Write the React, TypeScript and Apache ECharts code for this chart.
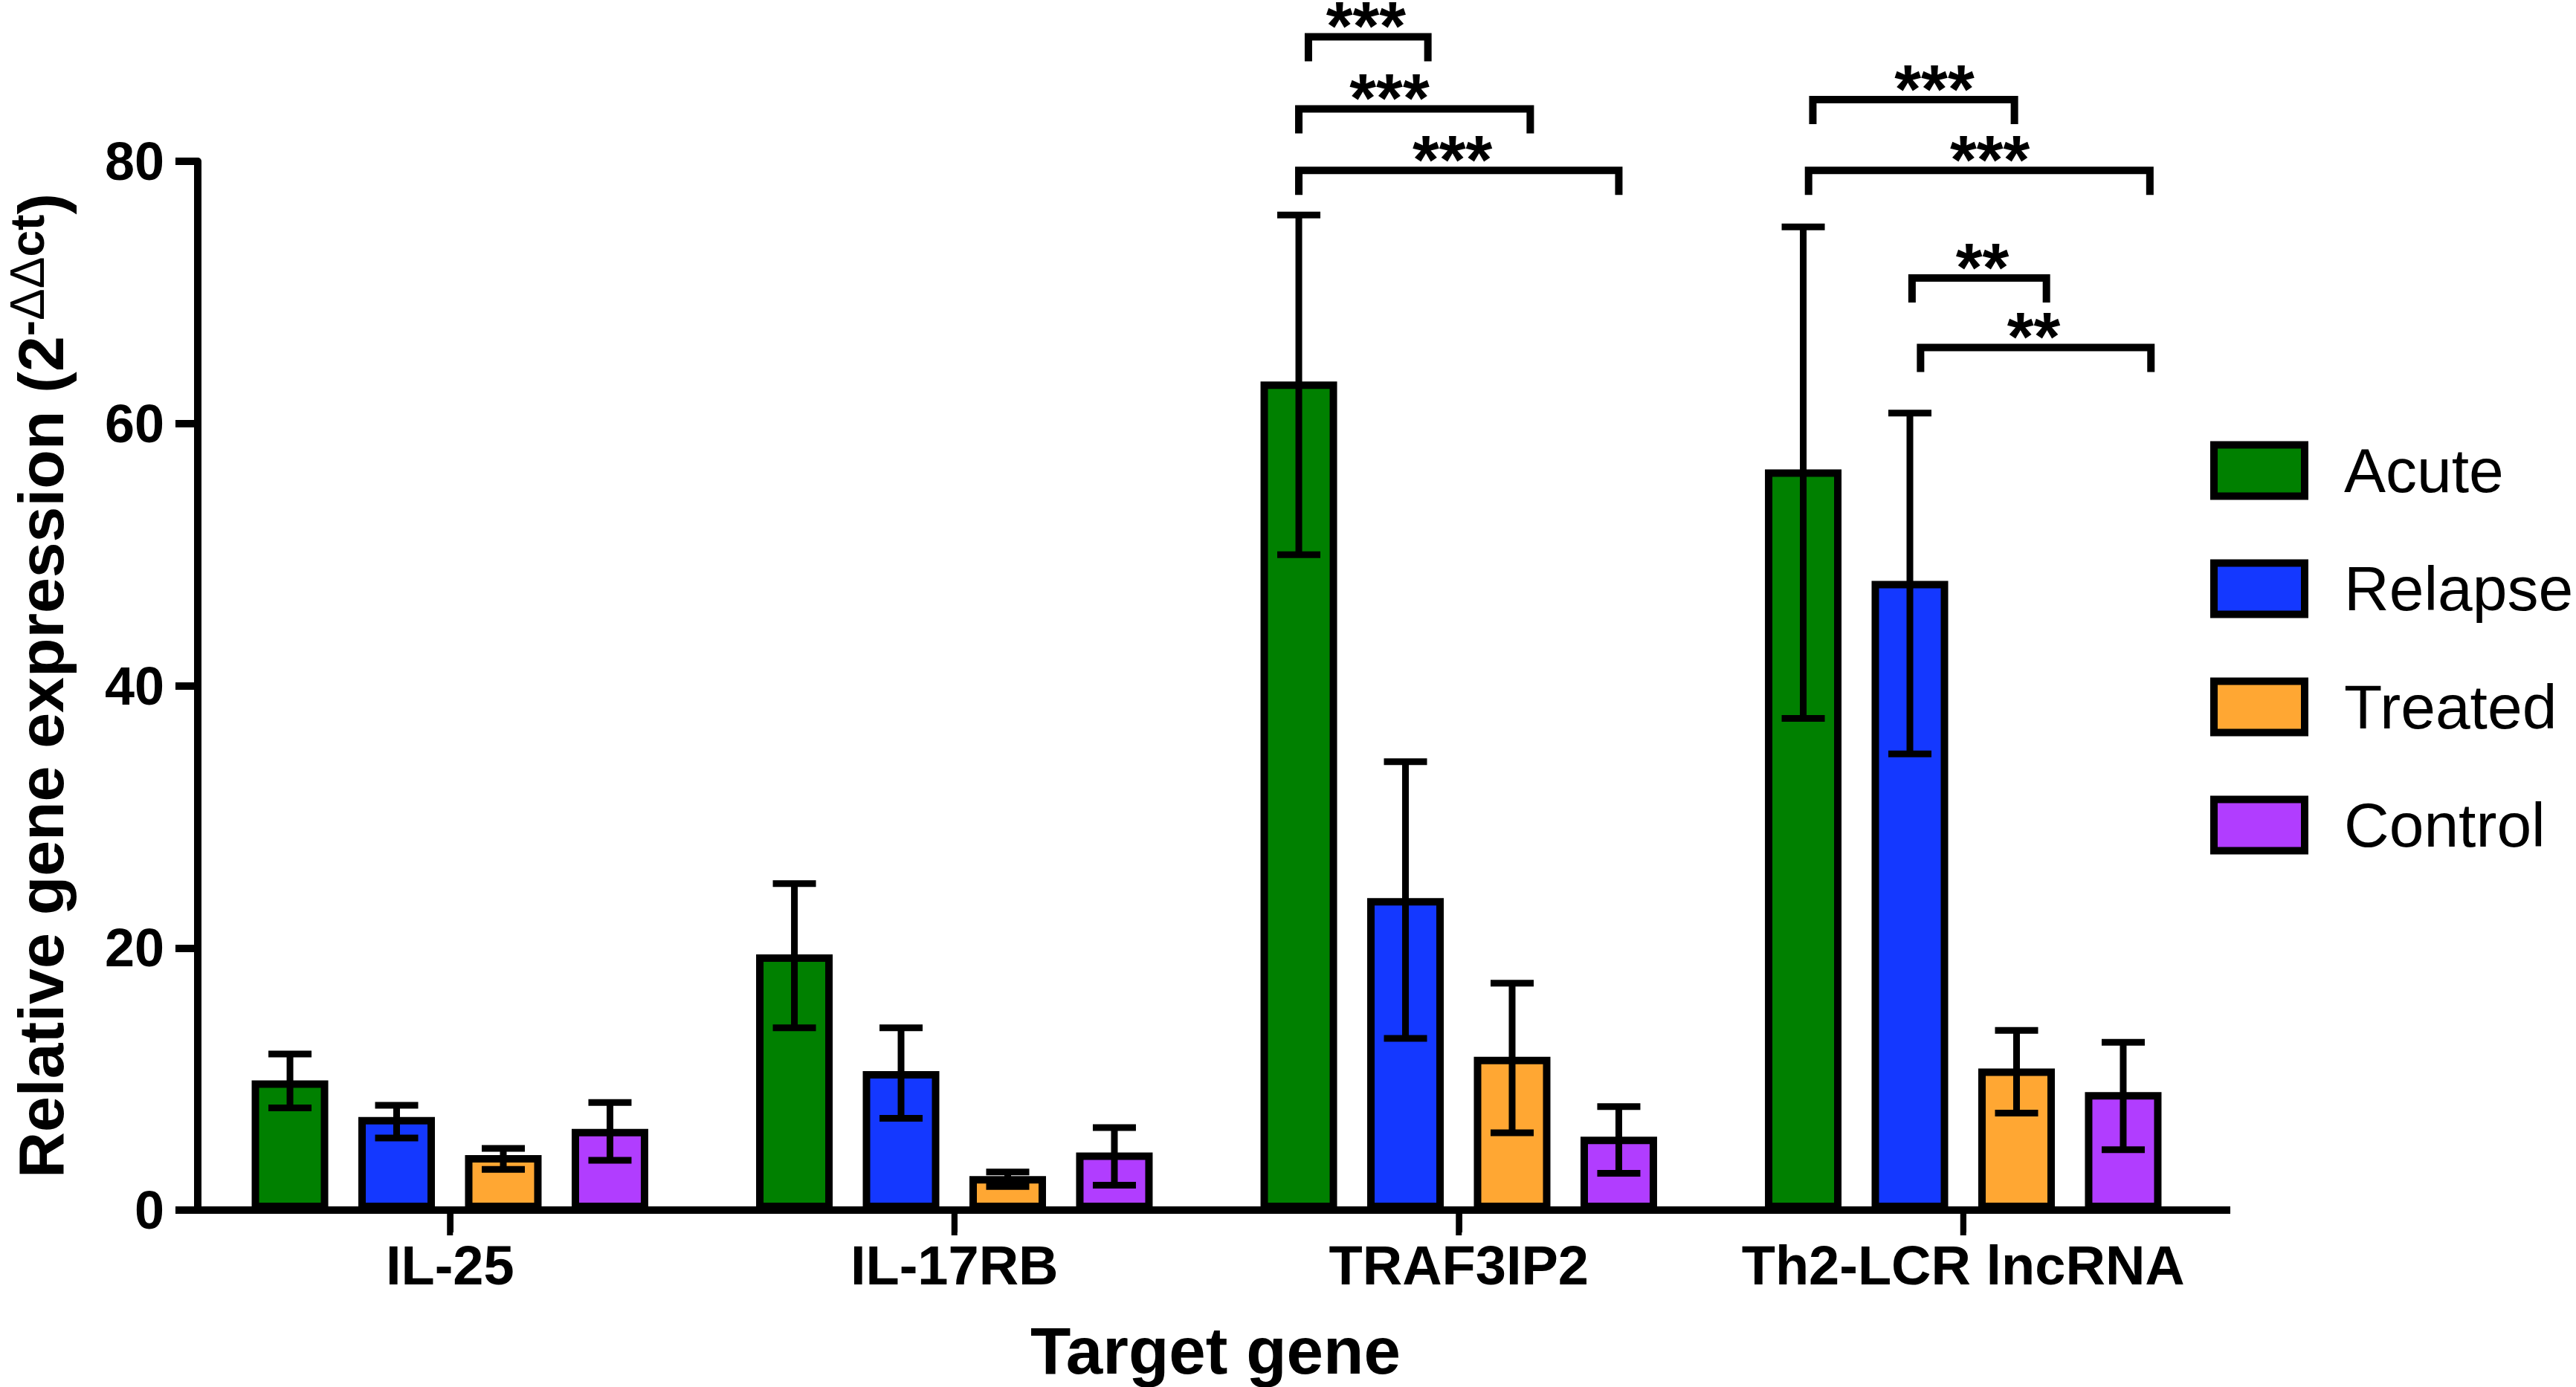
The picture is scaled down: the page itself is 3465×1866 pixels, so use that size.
import React, { useEffect, useRef } from "react";
import * as echarts from "echarts";

// ---- data ----
const categories = ["IL-25", "IL-17RB", "TRAF3IP2", "Th2-LCR lncRNA"];
const groups = ["Acute", "Relapse", "Treated", "Control"];
const groupColors = ["#008000", "#1438FF", "#FFA733", "#B13DFF"];

const acute = [9.9, 19.5, 63.2, 56.5];
const relapse = [7.1, 10.6, 23.8, 48.0];
const treated = [4.2, 2.6, 11.7, 10.8];
const control = [6.2, 4.4, 5.6, 9.0];

const acuteLow = [7.8, 13.9, 50.0, 37.5];
const acuteHigh = [11.9, 24.9, 75.9, 75.0];
const relapseLow = [5.5, 7.0, 13.1, 34.8];
const relapseHigh = [8.0, 13.9, 34.2, 60.8];
const treatedLow = [3.1, 1.8, 5.9, 7.4];
const treatedHigh = [4.7, 2.9, 17.3, 13.7];
const controlLow = [3.8, 1.9, 2.8, 4.6];
const controlHigh = [8.2, 6.3, 7.9, 12.8];

const yTicks = [0, 20, 40, 60, 80];

// significance brackets: category, from/to bar slot (0 = Acute .. 3 = Control), level, label slot, label
const bracketCategory = [2, 2, 2, 3, 3, 3, 3];
const bracketFrom = [0.09, 0.0, 0.0, 0.09, 0.05, 1.02, 1.1];
const bracketTo = [1.21, 2.17, 3.0, 1.98, 3.25, 2.28, 3.26];
const bracketLevel = [89.5, 84.0, 79.3, 84.7, 79.3, 71.1, 65.8];
const bracketTextAt = [0.63, 0.85, 1.44, 1.23, 1.75, 1.68, 2.16];
const bracketText = ["***", "***", "***", "***", "***", "**", "**"];

// ---- layout / style ----
const W = 3465;
const H = 1866;
const GRID_LEFT = 266;
const GRID_RIGHT_X = 2980;
const GRID_TOP = 217;
const AXIS_Y = 1628;
const AXIS_EXTRA = 20;
const X_TICK_LEN = 34;
const BAR_W = 0.1518;
const BAR_GAP = 0.393;
const FONT = 'Arial, "Liberation Sans", Helvetica, sans-serif';

const values = [acute, relapse, treated, control];
const lows = [acuteLow, relapseLow, treatedLow, controlLow];
const highs = [acuteHigh, relapseHigh, treatedHigh, controlHigh];

export default function App() {
  const ref = useRef<HTMLDivElement>(null);

  useEffect(() => {
    document.body.style.margin = "0";
    document.body.style.overflow = "hidden";
    if (!ref.current) return;
    const chart = echarts.init(ref.current, undefined, { renderer: "svg" });

    const barSeries = groups.map((g, i) => ({
      name: g,
      type: "bar",
      data: values[i],
      barWidth: `${BAR_W * 100}%`,
      barGap: `${BAR_GAP * 100}%`,
      itemStyle: { color: groupColors[i], borderColor: "#000", borderWidth: 10 },
      z: 2,
    }));

    const errData: number[][] = [];
    groups.forEach((_, s) => {
      categories.forEach((__, c) => {
        errData.push([c, s, lows[s][c], highs[s][c]]);
      });
    });

    const bracketData = bracketCategory.map((c, i) => [
      c,
      bracketFrom[i],
      bracketTo[i],
      bracketLevel[i],
      bracketTextAt[i],
    ]);

    const stepOf = (api: any) => api.size([1, 0])[0] * BAR_W * (1 + BAR_GAP);

    const option: any = {
      animation: false,
      backgroundColor: "#fff",
      grid: {
        left: GRID_LEFT,
        right: W - GRID_RIGHT_X,
        top: GRID_TOP,
        bottom: H - AXIS_Y,
        containLabel: false,
        outerBoundsMode: "none",
      },
      legend: {
        data: groups,
        orient: "vertical",
        left: 2968,
        top: 586,
        itemWidth: 122,
        itemHeight: 69,
        itemGap: 75,
        icon: "rect",
        itemStyle: { borderColor: "#000", borderWidth: 10 },
        textStyle: {
          fontSize: 84,
          fontFamily: FONT,
          color: "#000",
          lineHeight: 59,
          padding: [0, 0, 0, 48],
        },
      },
      xAxis: {
        type: "category",
        data: categories,
        boundaryGap: true,
        axisLine: { show: true, lineStyle: { color: "#000", width: 10 } },
        axisTick: { show: true, alignWithLabel: true, length: 30, lineStyle: { color: "#000", width: 8 } },
        axisLabel: {
          fontSize: 74,
          fontWeight: "bold",
          fontFamily: FONT,
          color: "#000",
          margin: 34,
          lineHeight: 80,
          interval: 0,
        },
        splitLine: { show: false },
        name: "Target gene",
        nameLocation: "middle",
        nameGap: 139,
        nameTextStyle: {
          fontSize: 89,
          fontWeight: "bold",
          fontFamily: FONT,
          color: "#000",
          lineHeight: 100,
          padding: [0, 0, 0, 24],
        },
      },
      yAxis: {
        type: "value",
        min: yTicks[0],
        max: yTicks[yTicks.length - 1],
        interval: yTicks[1] - yTicks[0],
        axisLine: { show: true, lineStyle: { color: "#000", width: 10 } },
        axisTick: { show: true, length: 30, lineStyle: { color: "#000", width: 10 } },
        axisLabel: {
          fontSize: 72,
          fontWeight: "bold",
          fontFamily: FONT,
          color: "#000",
          margin: 45,
        },
        splitLine: { show: false },
        name: "{m|Relative gene expression (2}{s|-}{d|ΔΔ}{s|ct}{m|)}",
        nameLocation: "middle",
        nameGap: 161,
        nameRotate: 90,
        nameTextStyle: {
          fontFamily: FONT,
          color: "#000",
          rich: {
            m: { fontSize: 86, fontWeight: "bold", lineHeight: 100, fontFamily: FONT, color: "#000" },
            s: { fontSize: 64, fontWeight: "bold", lineHeight: 42, verticalAlign: "top", fontFamily: FONT, color: "#000" },
            d: { fontSize: 64, fontWeight: "normal", lineHeight: 42, verticalAlign: "top", fontFamily: FONT, color: "#000" },
          },
        },
      },
      series: [
        ...barSeries,
        {
          type: "custom",
          name: "error",
          data: errData,
          z: 5,
          clip: false,
          silent: true,
          renderItem: (params: any, api: any) => {
            const cat = api.value(0);
            const s = api.value(1);
            const step = stepOf(api);
            const base = api.coord([cat, 0]);
            const cx = base[0] + (s - 1.5) * step;
            const yl = api.coord([cat, api.value(2)])[1];
            const yh = api.coord([cat, api.value(3)])[1];
            const st = { stroke: "#000", lineWidth: 9 };
            const cap = 29;
            const children: any[] = [
              { type: "line", shape: { x1: cx, y1: yl, x2: cx, y2: yh }, style: st },
              { type: "line", shape: { x1: cx - cap, y1: yh, x2: cx + cap, y2: yh }, style: st },
              { type: "line", shape: { x1: cx - cap, y1: yl, x2: cx + cap, y2: yl }, style: st },
            ];
            if (s === 0) {
              // category tick below the x axis, at the group centre
              children.push({
                type: "line",
                shape: { x1: base[0], y1: base[1], x2: base[0], y2: base[1] + X_TICK_LEN },
                style: { stroke: "#000", lineWidth: 8 },
              });
            }
            return { type: "group", children };
          },
        },
        {
          type: "custom",
          name: "significance",
          data: bracketData,
          z: 6,
          clip: false,
          silent: true,
          renderItem: (params: any, api: any) => {
            const cat = api.value(0);
            const step = stepOf(api);
            const base = api.coord([cat, 0])[0] - 1.5 * step;
            const y = api.coord([cat, api.value(3)])[1];
            const x1 = base + api.value(1) * step;
            const x2 = base + api.value(2) * step;
            const xt = base + api.value(4) * step;
            const leg = 33;
            return {
              type: "group",
              children: [
                {
                  type: "polyline",
                  shape: { points: [[x1, y + leg], [x1, y], [x2, y], [x2, y + leg]] },
                  style: { stroke: "#000", lineWidth: 10, fill: null, lineJoin: "miter" },
                },
                {
                  type: "text",
                  x: xt,
                  y: y - 14,
                  style: {
                    text: bracketText[params.dataIndex],
                    fontSize: 92,
                    fontWeight: "bold",
                    fontFamily: FONT,
                    fill: "#000",
                    align: "center",
                    verticalAlign: "middle",
                  },
                },
              ],
            };
          },
        },
      ],
    };

    chart.setOption(option);

    // extend the x-axis line a little past the last category band (as in the reference)
    const p0 = chart.convertToPixel({ xAxisIndex: 0, yAxisIndex: 0 }, [0, 0]) as number[];
    const p1 = chart.convertToPixel({ xAxisIndex: 0, yAxisIndex: 0 }, [1, 0]) as number[];
    const pl = chart.convertToPixel({ xAxisIndex: 0, yAxisIndex: 0 }, [categories.length - 1, 0]) as number[];
    if (p0 && p1 && pl) {
      const band = p1[0] - p0[0];
      const endX = pl[0] + band / 2;
      const axisY = Math.round(p0[1]);
      chart.setOption({
        graphic: [
          {
            type: "line",
            shape: { x1: endX - 3, y1: axisY, x2: endX + AXIS_EXTRA, y2: axisY },
            style: { stroke: "#000", lineWidth: 10 },
            z: 5,
          },
        ],
      });
    }

    return () => chart.dispose();
  }, []);

  return <div ref={ref} style={{ width: W, height: H, background: "#fff" }} />;
}
